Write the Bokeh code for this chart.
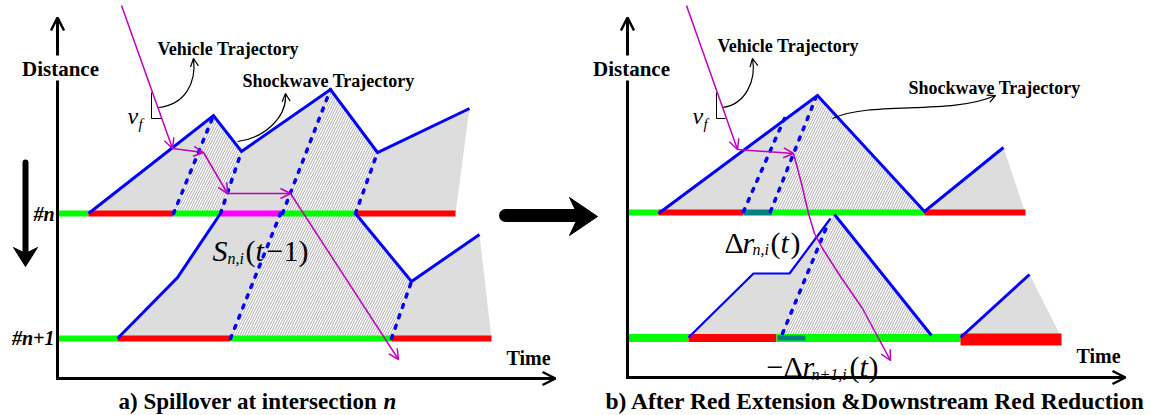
import math
from bokeh.plotting import figure
from bokeh.models import Range1d, Arrow, OpenHead, ColumnDataSource
from bokeh.core.properties import value
from bokeh.embed import file_html
from bokeh.resources import INLINE

FONT = "Liberation Serif"
GREEN = "#00ff00"; RED = "#ff0000"; PINK = "#ff00ff"; TEAL = "#008080"
BLUE = "#0000ff"; VEH = "#c000c0"; GRAY = "#dddddd"; HATCH = "#a0a0a0"

# ---------------- panel a) data ----------------
A_AXIS_ORIGIN = (57, 378)
A_AXIS_TOP = 17
A_AXIS_RIGHT = 555
A_N_EDGES = [57, 88, 173, 220, 282, 355, 455]
A_N_COLS = [GREEN, RED, GREEN, PINK, GREEN, RED]
A_N1_EDGES = [57, 117, 230, 391, 491]
A_N1_COLS = [GREEN, RED, GREEN, RED]
A_GRAY_XS = [[88, 213, 241, 330, 377, 469, 455], [117, 177, 220, 355, 411, 479, 491]]
A_GRAY_YS = [[213, 115, 151, 89, 152, 108, 213], [338, 277, 213, 213, 281, 234, 338]]
A_HATCH_XS = [[173, 213, 241, 220], [282, 330, 377, 355], [230, 280, 355, 411, 391]]
A_HATCH_YS = [[213, 115, 151, 213], [213, 89, 152, 213], [338, 213, 213, 281, 338]]
A_BLUE_XS = [[88, 213, 241, 330, 377, 469], [117, 177, 220], [355, 411, 479]]
A_BLUE_YS = [[213, 115, 151, 89, 152, 108], [338, 277, 213], [213, 281, 234]]
A_DASH_XS = [[173, 213], [220, 241], [282, 330], [355, 377], [230, 280], [391, 411]]
A_DASH_YS = [[213, 115], [213, 151], [213, 89], [213, 152], [338, 213], [338, 281]]
A_VEH_X = [121, 172, 203, 227, 290, 398]
A_VEH_Y = [5, 148, 152, 193, 193, 359]
A_TRI_X = [151, 151, 161]
A_TRI_Y = [92, 118, 118]

# ---------------- panel b) data ----------------
B_AXIS_ORIGIN = (627, 377)
B_AXIS_TOP = 17
B_AXIS_RIGHT = 1125
B_N_EDGES = [627, 658, 743, 772, 924, 1025]
B_N_COLS = [GREEN, RED, TEAL, GREEN, RED]
B_N1_EDGES = [627, 688, 776, 960]
B_N1_COLS = [GREEN, RED, GREEN]
B_N1_TEAL = [777, 805]
B_N1_RED = [960, 1061]
B_GRAY_XS = [[658, 817, 924, 1003, 1025], [688, 753, 789, 832, 781], [960, 1029, 1061]]
B_GRAY_YS = [[213, 95, 211, 147, 213], [337, 273, 273, 216, 337], [337, 274, 337]]
B_HATCH_XS = [[770, 817, 924], [781, 833, 931]]
B_HATCH_YS = [[213, 95, 213], [337, 215, 337]]
B_BLUE_XS = [[658, 817, 924, 1003], [834, 931], [960, 1029]]
B_BLUE_YS = [[213, 95, 211, 147], [214, 335], [337, 274]]
B_BLUE_THIN_XS = [[688, 753, 789, 830]]
B_BLUE_THIN_YS = [[337, 273, 273, 218]]
B_DASH_XS = [[743, 784], [770, 815], [782, 828]]
B_DASH_YS = [[211, 118], [211, 98], [333, 222]]
B_VEH_X = [686, 737, 793]
B_VEH_Y = [5, 149, 153]
B_VEH_CURVE_X = [793, 801, 808, 814, 822, 840, 862, 890]
B_VEH_CURVE_Y = [153, 183, 213, 233, 248, 276, 308, 360]
B_TRI_X = [716, 716, 725]
B_TRI_Y = [92, 118, 118]

# curved annotation arrows: x0, y0, cx0, cy0, cx1, cy1, x1, y1
CURVES = [
    [158, 107, 185, 104, 196, 82, 193, 58],
    [237, 141, 262, 138, 287, 118, 285, 93],
    [722, 107, 745, 104, 756, 80, 752, 58],
    [832, 118, 870, 100, 950, 115, 995, 95],
]

# middle big arrow & the down arrow
MID_SHAFT = [505, 575, 215]
MID_HEAD_X = [569, 597, 569, 578]
MID_HEAD_Y = [197, 216, 235, 216]
DOWN_SHAFT = [25, 162, 252]
DOWN_HEAD_X = [13, 25, 37, 25]
DOWN_HEAD_Y = [247, 253, 247, 266]

p = figure(width=1151, height=415, x_range=Range1d(0, 1151), y_range=Range1d(415, 0),
           x_axis_type=None, y_axis_type=None, toolbar_location=None,
           output_backend="svg", min_border=0, outline_line_color=None)
p.xgrid.visible = False
p.ygrid.visible = False


def bars(edges, cols, y, h):
    p.quad(left=edges[:-1], right=edges[1:], top=[y - h / 2] * len(cols),
           bottom=[y + h / 2] * len(cols), fill_color=cols, line_color=None)


def arrows(xs0, ys0, xs1, ys1, color, lw, size, hlw=None):
    src = ColumnDataSource(dict(x0=xs0, y0=ys0, x1=xs1, y1=ys1))
    p.add_layout(Arrow(end=OpenHead(size=size, line_color=color, line_width=hlw or lw),
                       source=src, x_start="x0", y_start="y0", x_end="x1", y_end="y1",
                       line_color=color, line_width=lw))


def txt(xs, ys, texts, size, style="normal", align="left", baseline="alphabetic"):
    p.text(x=xs, y=ys, text=texts, text_font=value(FONT), text_font_size=value(f"{size}px"),
           text_font_style=value(style), text_align=value(align),
           text_baseline=value(baseline), text_color="black")


# fills
for xs, ys in [(A_GRAY_XS, A_GRAY_YS), (B_GRAY_XS, B_GRAY_YS)]:
    p.patches(xs=xs, ys=ys, fill_color=GRAY, line_color=None)
for xs, ys in [(A_HATCH_XS, A_HATCH_YS), (B_HATCH_XS, B_HATCH_YS)]:
    p.patches(xs=xs, ys=ys, fill_color="white", line_color=None, hatch_pattern="/",
              hatch_color=HATCH, hatch_scale=5, hatch_weight=0.9)

# signal bars
bars(A_N_EDGES, A_N_COLS, 213, 6)
bars(A_N1_EDGES, A_N1_COLS, 338, 6)
bars(B_N_EDGES, B_N_COLS, 212, 6)
bars(B_N1_EDGES, B_N1_COLS, 337.5, 8)
bars(B_N1_TEAL, [TEAL], 337.5, 5)
bars(B_N1_RED, [RED], 339, 12)

# shockwaves
p.multi_line(xs=A_DASH_XS + B_DASH_XS, ys=A_DASH_YS + B_DASH_YS, line_color=BLUE,
             line_width=3.5, line_dash="3 8", line_cap="round")
p.multi_line(xs=A_BLUE_XS + B_BLUE_XS, ys=A_BLUE_YS + B_BLUE_YS, line_color=BLUE,
             line_width=3, line_join="miter")
p.multi_line(xs=B_BLUE_THIN_XS, ys=B_BLUE_THIN_YS, line_color=BLUE, line_width=2.2)

# vehicle trajectories
arrows(A_VEH_X[:-1], A_VEH_Y[:-1], A_VEH_X[1:], A_VEH_Y[1:], VEH, 1.5, 10)
arrows(B_VEH_X[:-1], B_VEH_Y[:-1], B_VEH_X[1:], B_VEH_Y[1:], VEH, 1.5, 10)
p.line(B_VEH_CURVE_X[:-1], B_VEH_CURVE_Y[:-1], line_color=VEH, line_width=1.5)
arrows([B_VEH_CURVE_X[-2]], [B_VEH_CURVE_Y[-2]], [B_VEH_CURVE_X[-1]], [B_VEH_CURVE_Y[-1]], VEH, 1.5, 10)

# v_f triangles
p.multi_line(xs=[A_TRI_X, B_TRI_X], ys=[A_TRI_Y, B_TRI_Y], line_color="black", line_width=1)

# curved pointers
p.bezier(x0=[c[0] for c in CURVES], y0=[c[1] for c in CURVES], cx0=[c[2] for c in CURVES],
         cy0=[c[3] for c in CURVES], cx1=[c[4] for c in CURVES], cy1=[c[5] for c in CURVES],
         x1=[c[6] for c in CURVES], y1=[c[7] for c in CURVES], line_color="black", line_width=1.2)
hx0, hy0, hx1, hy1 = [], [], [], []
for c in CURVES:
    dx, dy = c[6] - c[4], c[7] - c[5]
    d = math.hypot(dx, dy)
    hx0.append(c[6] - 3 * dx / d); hy0.append(c[7] - 3 * dy / d)
    hx1.append(c[6]); hy1.append(c[7])
arrows(hx0, hy0, hx1, hy1, "black", 1.2, 8)

# axes (gap where "Distance" sits)
for (ox, oy), top, right in [(A_AXIS_ORIGIN, A_AXIS_TOP, A_AXIS_RIGHT),
                             (B_AXIS_ORIGIN, B_AXIS_TOP, B_AXIS_RIGHT)]:
    p.segment(x0=[ox], y0=[oy], x1=[ox], y1=[80], line_color="black", line_width=3)
    arrows([ox], [55], [ox], [top], "black", 3, 13, 2.5)
    arrows([ox - 1.5], [oy], [right], [oy], "black", 3, 13, 2.5)

# big middle arrow and the down arrow
p.segment(x0=[MID_SHAFT[0]], y0=[MID_SHAFT[2]], x1=[MID_SHAFT[1]], y1=[MID_SHAFT[2]],
          line_color="black", line_width=13, line_cap="round")
p.patch(MID_HEAD_X, MID_HEAD_Y, fill_color="black", line_color="black")
p.segment(x0=[DOWN_SHAFT[0]], y0=[DOWN_SHAFT[1]], x1=[DOWN_SHAFT[0]], y1=[DOWN_SHAFT[2]],
          line_color="black", line_width=6, line_cap="round")
p.patch(DOWN_HEAD_X, DOWN_HEAD_Y, fill_color="black", line_color="black")

# texts
txt([60, 631], [68, 68], ["Distance", "Distance"], 21, "bold", "center", "middle")
txt([506, 1076], [357, 355], ["Time", "Time"], 20, "bold", "left", "middle")
txt([157, 717], [48, 45], ["Vehicle Trajectory", "Vehicle Trajectory"], 18, "bold", "left", "middle")
txt([242, 908], [80, 87], ["Shockwave Trajectory", "Shockwave Trajectory"], 18, "bold", "left", "middle")
txt([54, 54], [213, 337], ["#n", "#n+1"], 20, "bold italic", "right", "middle")
txt([118], [401], ["a) Spillover at intersection "], 23, "bold", "left", "middle")
txt([383], [401], ["n"], 23, "bold italic", "left", "middle")
txt([605], [400], ["b) After Red Extension &Downstream Red Reduction"], 23.5, "bold", "left", "middle")

# v_f
txt([127, 692], [115, 115], ["v", "v"], 24, "italic")
txt([138, 703], [123, 123], ["f", "f"], 15, "italic")

# math labels (big pieces)
txt([212, 255, 742, 780, 802, 859], [250, 250, 242, 242, 366, 366], ["S", "t", "r", "t", "r", "t"], 30, "italic")
txt([245, 266, 724, 770, 790, 766, 849, 868], [250, 250, 242, 242, 242, 366, 366, 366],
    ["(", "\u22121)", "\u0394", "(", ")", "\u2212\u0394", "(", ")"], 30, "normal")
txt([227, 752, 811], [258, 249, 374], ["n,i", "n,i", "n+1,i"], 16, "italic")

open("out.html", "w").write(file_html(p, INLINE))
